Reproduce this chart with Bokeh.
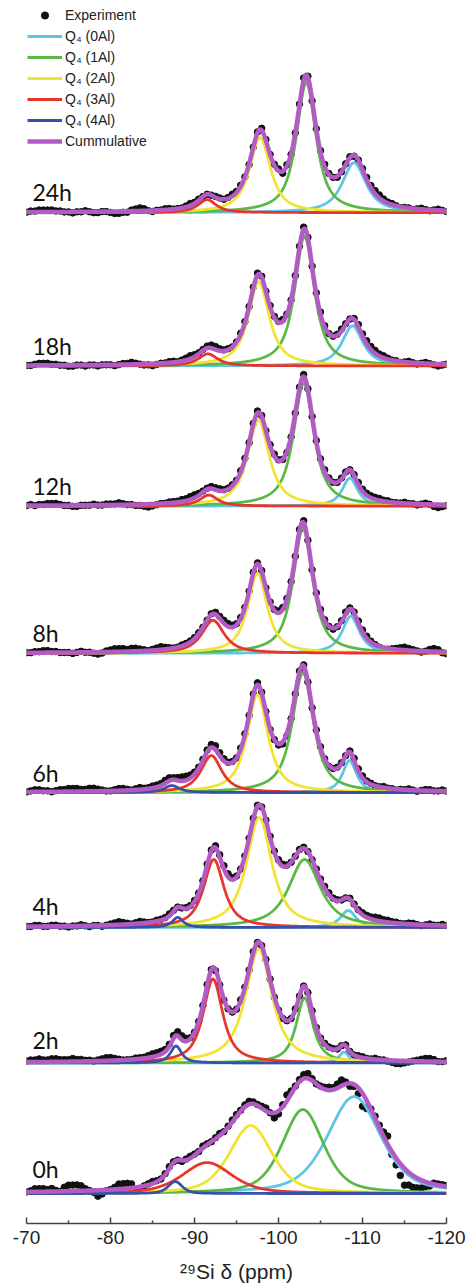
import numpy as np
from bokeh.plotting import figure
from bokeh.models import Range1d, FixedTicker, Legend, LegendItem
from bokeh.embed import file_html
from bokeh.resources import INLINE
from bokeh.core.properties import value

# ---------------- data ----------------
spectra = ["24h", "18h", "12h", "8h", "6h", "4h", "2h", "0h"]
# stacking offset of each spectrum (a.u.)
baseline = [1011.7, 858.3, 718.0, 570.7, 431.3, 296.3, 160.7, 30.0]
# Lorentzian fraction of the pseudo-Voigt line shape of each fit
eta = [0.85, 0.85, 0.85, 0.85, 0.85, 0.85, 0.85, 0.5]

# fitted components: position (ppm), intensity (a.u.), FWHM (ppm)
q0_ppm = [-109.0, -108.8, -108.5, -108.6, -108.45, -108.3, -107.8, -109.0]
q0_int = [50, 40, 28, 37, 32, 17, 11, 97]
q0_fwhm = [3.4, 3.0, 2.2, 2.5, 2.0, 2.2, 1.4, 7.5]

q1_ppm = [-103.3, -103.1, -103.0, -102.9, -102.9, -103.1, -103.1, -102.9]
q1_int = [130, 130, 123, 125, 120, 68, 65, 84]
q1_fwhm = [2.8, 2.8, 2.9, 2.8, 3.0, 4.5, 2.4, 5.8]

q2_ppm = [-97.8, -97.65, -97.6, -97.5, -97.5, -97.7, -97.65, -96.7]
q2_int = [75, 84, 86, 80, 98, 110, 114, 68]
q2_fwhm = [3.0, 3.0, 3.1, 2.8, 3.0, 3.6, 3.8, 6.0]

q3_ppm = [-91.5, -91.6, -91.7, -92.2, -92.0, -92.3, -92.2, -91.5]
q3_int = [13, 12, 11, 33, 37, 68, 84, 31]
q3_fwhm = [2.6, 2.8, 2.6, 3.2, 3.0, 2.9, 2.8, 7.0]

q4_ppm = [-87.5, -87.5, -87.5, -87.5, -87.3, -88.0, -87.8, -87.7]
q4_int = [0, 0, 0, 0, 7, 10, 17, 12]
q4_fwhm = [2.0, 2.0, 2.0, 2.0, 2.2, 1.6, 1.6, 2.0]

# experiment: chemical shift of the points and deviation of each point from the fit
exp_ppm = np.linspace(-70, -120, 101)
res_24h = [0, 1, 1, 2, 2, 2, 2, 1, 1, 0,
           0, -1, 0, 0, 1, 0, -1, -1, 0, 0,
           -1, -2, -2, -1, -1, 1, 2, 3, 2, 0,
           -1, 0, 0, 1, 1, 0, 0, 0, 1, 2,
           1, 1, 0, 0, 0, 1, 1, 0, 1, 2,
           1, 1, 0, -1, 0, 1, 2, 1, 0, 1,
           2, -2, 1, -1, 0, 1, 2, 1, -1, 0,
           1, 2, 1, 0, -1, 0, 1, 1, -1, 0,
           1, 2, 2, 3, 3, 2, 1, 1, 0, -1,
           0, 0, -1, 0, 1, 0, -1, 0, 1, 0,
           -1]
res_18h = [0, 0, 1, 2, 2, 2, 1, 1, 0, 0,
           -1, -1, 0, 0, -1, 0, 0, -1, 0, 0,
           0, -1, 0, 1, 1, 2, 1, 0, -1, -1,
           -2, -1, 0, 0, 1, 1, 0, 1, 2, 3,
           2, 1, 1, 2, 3, 3, 2, 1, 1, 0,
           0, 1, 1, 0, 1, 2, 1, 0, 1, 1,
           1, 2, 0, -1, 0, 1, 2, 1, 0, 1,
           2, 1, 0, 0, 1, 2, 1, 0, 1, 2,
           2, 3, 3, 3, 2, 2, 1, 0, 0, -1,
           0, 1, 0, -1, 0, 1, 0, -1, -2, -1,
           0]
res_12h = [0, 1, 0, 1, 1, 2, 2, 2, 1, 0,
           0, -1, -1, 0, 0, 0, 1, 0, 0, 1,
           1, 1, 2, 1, 0, 0, -1, -1, -2, -3,
           -2, -1, 0, 0, 1, 1, 1, 2, 2, 3,
           3, 2, 1, 1, 2, 2, 2, 1, 1, 1,
           0, 1, 1, 0, 1, 2, 1, 0, 1, 2,
           1, 0, -1, -1, 0, 1, 2, 1, 0, 1,
           1, 2, 1, 0, 0, 1, 1, 0, 1, 2,
           2, 2, 2, 2, 2, 1, 1, 0, 0, 0,
           1, 0, 0, -1, 0, 1, 0, -2, -3, -2,
           -1]
res_8h = [0, 0, 1, 1, 2, 2, 1, 1, 0, 0,
          0, -1, 0, 1, 0, 0, -1, -2, -1, 1,
          2, 3, 3, 3, 2, 3, 3, 2, 1, 0,
          1, 2, 3, 2, 1, 0, 0, 1, 1, 1,
          1, 1, 0, 0, 1, 2, 2, 3, 3, 2,
          1, 1, 0, 0, 1, 1, 1, 0, 0, 1,
          2, 2, 1, 0, 0, 1, 2, 1, 0, 1,
          1, 1, 0, -1, 0, 1, 2, 1, 1, 2,
          2, 2, 1, 0, -1, -2, -1, 0, 1, 2,
          3, 2, 1, 0, -1, 0, 2, 3, 2, -1,
          -2]
res_6h = [0, 1, 2, 2, 1, 1, 0, 1, 2, 2,
          3, 3, 3, 2, 2, 3, 3, 2, 1, 0,
          0, 1, 2, 2, 1, 0, 1, 2, 1, 1,
          2, 2, 2, 3, 3, 2, 3, 4, 4, 3,
          2, 1, 1, 2, 3, 4, 3, 2, 1, 1,
          0, 1, 1, 0, 1, 2, 1, 0, -1, 0,
          -1, -2, -3, -2, 0, 1, 1, 0, 0, 1,
          1, 0, -1, 0, 1, 1, 0, 1, 2, 2,
          2, 1, 1, 0, 0, 1, 0, 0, -1, 0,
          0, 1, 0, -1, 0, 1, 1, 0, 0, 1,
          0]
res_4h = [0, 0, 1, 1, 0, 0, 1, 1, 0, 0,
          -1, 0, 0, 1, 0, -1, 0, 0, -1, 0,
          1, 2, 3, 2, 1, 0, 1, 2, 1, 0,
          0, 1, 1, 1, 2, 1, 0, 0, 1, 1,
          1, 0, 0, 1, 1, 2, 2, 3, 3, 2,
          1, 0, 0, 0, 1, 1, 0, 0, 1, 1,
          2, 2, 1, 0, 0, 1, 1, 0, 0, 1,
          1, 2, 2, 1, 1, 0, 0, 1, 1, 1,
          2, 2, 2, 3, 3, 2, 2, 1, 1, 0,
          0, 1, 1, 0, -1, 0, 1, 0, 0, 1,
          0]
res_2h = [1, 2, 2, 3, 2, 2, 3, 3, 2, 2,
          2, 3, 2, 2, 1, 1, 0, 1, 2, 3,
          3, 2, 1, 0, 0, 0, 1, 1, 1, 2,
          3, 3, 3, 2, 2, 3, 4, 4, 3, 1,
          0, 0, 0, 1, 0, -1, -1, -1, 0, 0,
          0, 1, 0, 0, 1, 0, 0, 1, 0, -1,
          -1, -1, 0, 0, 1, 0, 0, 1, 1, 0,
          0, 1, 1, 1, 0, 0, 1, 0, 0, 1,
          1, 0, 0, 1, 0, 0, -1, -2, -3, -3,
          -2, -1, 0, 1, 2, 3, 3, 2, 0, 0,
          1]
res_0h = [0, 1, 3, 3, 3, 2, 3, 1, 0, 4,
          6, 6, 6, 5, 2, 0, -2, -6, -4, -1,
          0, 2, 5, 5, 5, 4, -3, -3, 0, 1,
          2, 1, 0, 1, 2, 1, 0, -1, 1, 2,
          1, 0, 2, 1, 0, 1, 2, 0, 1, 2,
          2, 1, 2, 3, 2, 1, 2, 3, 0, -5,
          -3, 2, 6, 3, 1, 2, 4, 5, 2, 0,
          1, 2, 3, 2, 4, 6, 2, -3, -2, -6,
          -13, -8, 0, 2, 2, 4, 8, -3, -7, -12,
          -17, -13, -12, -10, -8, -5, -3, 1, 1, 1,
          1]
residuals = [res_24h, res_18h, res_12h, res_8h, res_6h, res_4h, res_2h, res_0h]

legend_labels = ["Experiment", "Q\u2084 (0Al)", "Q\u2084 (1Al)", "Q\u2084 (2Al)",
                 "Q\u2084 (3Al)", "Q\u2084 (4Al)", "Cummulative"]
tick_values = [-70, -80, -90, -100, -110, -120]
tick_labels = ["-70", "-80", "-90", "-100", "-110", "-120"]
minor_tick_values = [-75, -85, -95, -105, -115]
x_title = "\u00b2\u2079Si \u03b4 (ppm)"

# ---------------- styles / positions ----------------
comp_colors = ["#5EC5E6", "#5AB847", "#EFE531", "#E8352C", "#3B4FA6"]
cum_color = "#B35BC4"
label_lift = [21, 20, 20, 20, 20, 21, 23, 25]
label_x = -70.7


def pseudo_voigt(x, c, h, w, e):
    d2 = ((x - c) / w) ** 2
    return h * (e / (1.0 + 4.0 * d2) + (1.0 - e) * np.exp(-4.0 * np.log(2.0) * d2))


p = figure(width=466, height=1285, x_range=Range1d(-70, -120), y_range=Range1d(0, 1224),
           min_border_left=26, min_border_right=20, min_border_top=0, min_border_bottom=61,
           toolbar_location=None, output_backend="svg")

xs = np.linspace(-70, -120, 1201)
comp_tables = [(q0_ppm, q0_int, q0_fwhm), (q1_ppm, q1_int, q1_fwhm), (q2_ppm, q2_int, q2_fwhm),
               (q3_ppm, q3_int, q3_fwhm), (q4_ppm, q4_int, q4_fwhm)]

exp_r = None
comp_r = [None] * 5
cum_r = None
for k, name in enumerate(spectra):
    b = baseline[k]
    total = np.zeros_like(xs)
    total_exp = np.zeros_like(exp_ppm)
    curves = []
    for j, (cs, hs, ws) in enumerate(comp_tables):
        if hs[k] <= 0:
            curves.append(None)
            continue
        y = pseudo_voigt(xs, cs[k], hs[k], ws[k], eta[k])
        total += y
        total_exp += pseudo_voigt(exp_ppm, cs[k], hs[k], ws[k], eta[k])
        curves.append(y)
    r = p.scatter(exp_ppm, b + total_exp + np.array(residuals[k]), size=6.5,
                  fill_color="#111111", line_color="#111111")
    exp_r = exp_r or r
    for j, y in enumerate(curves):
        if y is None:
            continue
        r = p.line(xs, b + y, line_color=comp_colors[j], line_width=2.8)
        if comp_r[j] is None:
            comp_r[j] = r
    r = p.line(xs, b + total, line_color=cum_color, line_width=4.5)
    cum_r = cum_r or r
    p.text(x=[label_x], y=[b + label_lift[k]], text=[name], text_font=value("Lato"),
           text_font_size="23px", text_color="#111111", text_align="left",
           text_baseline="alphabetic")

items = [LegendItem(label=legend_labels[0], renderers=[exp_r])]
for j in range(5):
    items.append(LegendItem(label=legend_labels[j + 1], renderers=[comp_r[j]]))
items.append(LegendItem(label=legend_labels[6], renderers=[cum_r]))
legend = Legend(items=items, location=(0, 1072), glyph_width=35, glyph_height=18,
                label_height=18, spacing=3, padding=1, margin=0, label_standoff=3,
                label_text_font="Liberation Sans", label_text_font_size="14px",
                label_text_color="#222222", border_line_alpha=0, background_fill_alpha=0)
p.add_layout(legend)

ax = p.xaxis[0]
ax.ticker = FixedTicker(ticks=tick_values, minor_ticks=minor_tick_values)
ax.major_label_overrides = {v: s for v, s in zip(tick_values, tick_labels)}
ax.major_tick_in = 6
ax.major_tick_out = 0
ax.minor_tick_in = 3
ax.minor_tick_out = 0
ax.axis_line_width = 1.5
ax.axis_line_color = "#444444"
ax.major_tick_line_color = "#444444"
ax.major_tick_line_width = 1.5
ax.minor_tick_line_color = "#444444"
ax.minor_tick_line_width = 1.5
ax.major_label_text_font = "Liberation Sans"
ax.major_label_text_font_size = "19px"
ax.major_label_text_color = "#222222"
ax.major_label_standoff = 7
ax.axis_label = x_title
ax.axis_label_text_font = "Liberation Sans"
ax.axis_label_text_font_size = "21px"
ax.axis_label_text_font_style = "normal"
ax.axis_label_text_color = "#222222"
ax.axis_label_standoff = 13
p.yaxis.visible = False
p.xgrid.visible = False
p.ygrid.visible = False
p.outline_line_color = None

open("out.html", "w").write(file_html(p, INLINE))
